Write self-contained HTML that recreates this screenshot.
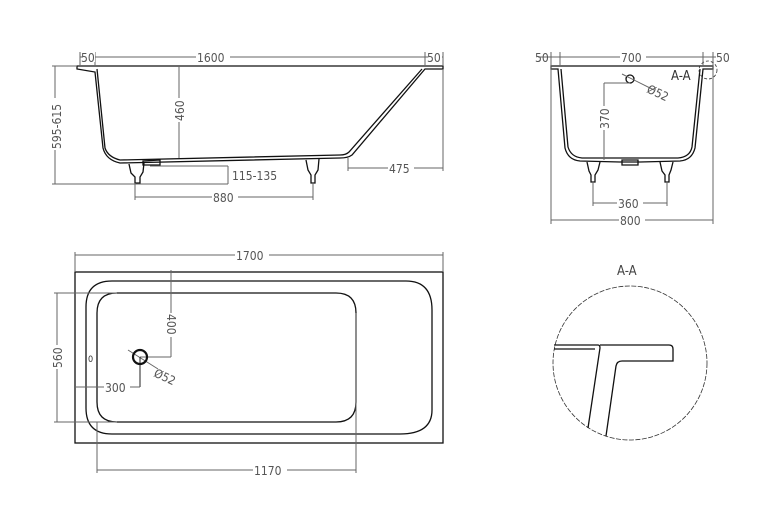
<!DOCTYPE html>
<html><head><meta charset="utf-8"><style>
html,body{margin:0;padding:0;background:#fff;}
svg{display:block;}
text{font-family:"DejaVu Sans Condensed","Liberation Sans Narrow","Liberation Sans",sans-serif;font-size:12px;fill:#555;}
.d{stroke:#666;stroke-width:1;fill:none;}
.o{stroke:#111;stroke-width:1.3;fill:none;}
</style></head><body>
<svg width="780" height="531" viewBox="0 0 780 531" xmlns="http://www.w3.org/2000/svg">
<!-- SIDE VIEW -->
<path class="o" d="M77,66 L443,66 L443,69 L425,69 L352,155 Q348,158 340,158 L120,163 Q106,160 103,148 L95,72 L77,69 Z"/>
<path class="o" d="M97,69 L105,148 Q108,157 120,160 L340,155 Q346,155 349,152 L422,69"/>
<path class="o" d="M143,161 L160,160 L160,165 L143,165 Z"/>
<path class="o" d="M129,164 L131,173 L135,177 L135,183 L140,183 L140,177 L143,172 L144,163"/>
<path class="o" d="M306,160 L308,170 L311,175 L311,183 L315,183 L315,175 L318,170 L319,159"/>
<line class="d" x1="80" y1="57" x2="443" y2="57"/>
<line class="d" x1="80" y1="52" x2="80" y2="66"/><line class="d" x1="95" y1="52" x2="95" y2="66"/>
<line class="d" x1="425" y1="52" x2="425" y2="66"/><line class="d" x1="443" y1="52" x2="443" y2="66"/>
<rect x="83" y="50" width="12" height="12" fill="#fff"/><text x="81" y="62">50</text>
<rect x="196" y="50" width="34" height="12" fill="#fff"/><text x="197" y="62">1600</text>
<rect x="428" y="50" width="14" height="12" fill="#fff"/><text x="427" y="62">50</text>
<line class="d" x1="55" y1="66" x2="55" y2="184"/>
<line class="d" x1="52" y1="66" x2="77" y2="66"/>
<line class="d" x1="52" y1="184" x2="228" y2="184"/>
<rect x="48" y="98" width="14" height="52" fill="#fff"/>
<text transform="translate(61,149) rotate(-90)">595-615</text>
<line class="d" x1="179" y1="66" x2="179" y2="158"/>
<rect x="172" y="98" width="14" height="24" fill="#fff"/>
<text transform="translate(184,121) rotate(-90)">460</text>
<line class="d" x1="150" y1="166" x2="228" y2="166"/>
<line class="d" x1="228" y1="166" x2="228" y2="184"/>
<text x="232" y="180">115-135</text>
<line class="d" x1="135" y1="183" x2="135" y2="200"/><line class="d" x1="313" y1="183" x2="313" y2="200"/>
<line class="d" x1="135" y1="197" x2="313" y2="197"/>
<rect x="212" y="190" width="26" height="12" fill="#fff"/><text x="213" y="202">880</text>
<line class="d" x1="348" y1="158" x2="348" y2="171"/>
<line class="d" x1="443" y1="69" x2="443" y2="171"/>
<line class="d" x1="348" y1="168" x2="443" y2="168"/>
<rect x="388" y="161" width="26" height="12" fill="#fff"/><text x="389" y="173">475</text>

<!-- END VIEW -->
<path class="o" d="M551,66 L713,66 L713,69 L703,69 L695,148 Q692,160 680,161 L640,162 L620,162 L580,161 Q568,160 565,148 L558,69 L551,69 Z"/>
<path class="o" d="M561,69 L568,147 Q571,157 582,158 L678,158 Q690,157 692,147 L700,69"/>
<path class="o" d="M622,160 L638,160 L638,165 L622,165 Z"/>
<path class="o" d="M587,162 L589,171 L591,175 L591,182 L595,182 L595,175 L598,170 L600,162"/>
<path class="o" d="M660,162 L662,171 L665,175 L665,182 L669,182 L669,175 L671,170 L673,162"/>
<line class="d" x1="538" y1="57" x2="730" y2="57"/>
<line class="d" x1="551" y1="52" x2="551" y2="224"/><line class="d" x1="560" y1="52" x2="560" y2="66"/>
<line class="d" x1="703" y1="52" x2="703" y2="66"/><line class="d" x1="713" y1="52" x2="713" y2="224"/>
<text x="535" y="62">50</text>
<rect x="620" y="50" width="26" height="12" fill="#fff"/><text x="621" y="62">700</text>
<rect x="716" y="50" width="14" height="12" fill="#fff"/><text x="716" y="62">50</text>
<circle cx="630" cy="79" r="4" class="o"/>
<line class="d" x1="622" y1="74" x2="654" y2="90"/>
<text transform="translate(646,92) rotate(25)">Ø52</text>
<line class="d" x1="604" y1="83" x2="630" y2="83"/>
<line class="d" x1="604" y1="83" x2="604" y2="160"/>
<rect x="597" y="106" width="14" height="24" fill="#fff"/>
<text transform="translate(609,129) rotate(-90)">370</text>
<circle cx="708" cy="70" r="9" fill="none" stroke="#333" stroke-width="0.8" stroke-dasharray="3,2"/>
<text x="671" y="80" style="font-size:13px;fill:#333">A-A</text>
<line class="d" x1="593" y1="182" x2="593" y2="206"/><line class="d" x1="667" y1="182" x2="667" y2="206"/>
<line class="d" x1="593" y1="203" x2="667" y2="203"/>
<rect x="617" y="196" width="26" height="12" fill="#fff"/><text x="618" y="208">360</text>
<line class="d" x1="551" y1="220" x2="713" y2="220"/>
<rect x="619" y="213" width="26" height="12" fill="#fff"/><text x="620" y="225">800</text>

<!-- TOP VIEW -->
<rect x="75" y="272" width="368" height="171" class="o"/>
<path class="o" d="M112,281 L406,281 Q432,281 432,310 L432,410 Q432,434 400,434 L112,434 Q86,434 86,408 L86,307 Q86,281 112,281 Z"/>
<path class="o" d="M117,293 L336,293 Q356,293 356,313 L356,402 Q356,422 336,422 L117,422 Q97,422 97,402 L97,313 Q97,293 117,293 Z"/>
<text x="88" y="362" style="font-size:9px;fill:#333">0</text>
<line class="d" x1="75" y1="255" x2="443" y2="255"/>
<line class="d" x1="75" y1="252" x2="75" y2="272"/><line class="d" x1="443" y1="252" x2="443" y2="272"/>
<rect x="235" y="248" width="34" height="12" fill="#fff"/><text x="236" y="260">1700</text>
<line class="d" x1="54" y1="293" x2="117" y2="293"/><line class="d" x1="54" y1="422" x2="117" y2="422"/>
<line class="d" x1="57" y1="293" x2="57" y2="422"/>
<rect x="50" y="345" width="14" height="24" fill="#fff"/>
<text transform="translate(62,368) rotate(-90)">560</text>
<line class="d" x1="171" y1="270" x2="171" y2="357"/>
<line class="d" x1="140" y1="357" x2="171" y2="357"/>
<rect x="164" y="313" width="14" height="24" fill="#fff"/>
<text transform="translate(167,314) rotate(90)">400</text>
<line class="d" x1="128" y1="350" x2="158" y2="369"/>
<text transform="translate(153,376) rotate(25)">Ø52</text>
<line x1="140" y1="357" x2="140" y2="387" stroke="#222" stroke-width="1"/>
<line class="d" x1="75" y1="387" x2="140" y2="387"/>
<rect x="104" y="380" width="26" height="12" fill="#fff"/><text x="105" y="392">300</text>
<circle cx="140" cy="357" r="7" fill="none" stroke="#111" stroke-width="2.2"/>
<line class="d" x1="97" y1="422" x2="97" y2="473"/><line class="d" x1="356" y1="313" x2="356" y2="473"/>
<line class="d" x1="97" y1="470" x2="356" y2="470"/>
<rect x="253" y="463" width="34" height="12" fill="#fff"/><text x="254" y="475">1170</text>

<!-- DETAIL A-A -->
<text x="617" y="275" style="font-size:13px;fill:#444">A-A</text>
<circle cx="630" cy="363" r="77" fill="none" stroke="#333" stroke-width="0.8" stroke-dasharray="5,1.5"/>
<path class="o" d="M554,345 L598,345 Q600,345 600,348 L588,428"/>
<path class="o" d="M554,349 L595,349"/>
<path class="o" d="M600,345 L669,345 Q673,345 673,349 L673,361 L622,361 Q617,361 616,366 L606,436"/>
</svg>
</body></html>
